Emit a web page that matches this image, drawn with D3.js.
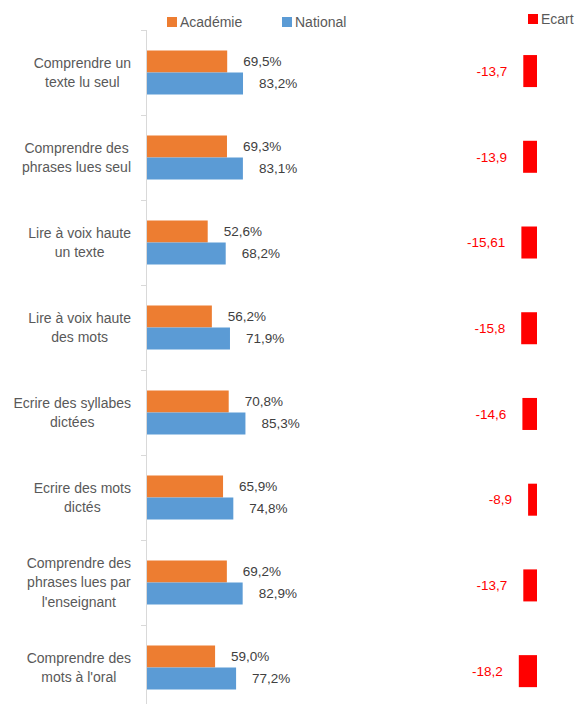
<!DOCTYPE html>
<html><head><meta charset="utf-8">
<script src="https://cdn.jsdelivr.net/npm/d3@7"></script>
<style>body{margin:0;background:#fff;} svg{display:block;font-family:"Liberation Sans",Arial,sans-serif;}</style>
</head><body><svg id="c" width="577" height="704"></svg>
<script>
const categories = [
  ["Comprendre un","texte lu seul"],
  ["Comprendre des","phrases lues seul"],
  ["Lire à voix haute","un texte"],
  ["Lire à voix haute","des mots"],
  ["Ecrire des syllabes","dictées"],
  ["Ecrire des mots","dictés"],
  ["Comprendre des","phrases lues par","l'enseignant"],
  ["Comprendre des","mots à l'oral"]
];
const academie = [69.5, 69.3, 52.6, 56.2, 70.8, 65.9, 69.2, 59.0];
const national = [83.2, 83.1, 68.2, 71.9, 85.3, 74.8, 82.9, 77.2];
const ecart = [-13.7, -13.9, -15.61, -15.8, -14.6, -8.9, -13.7, -18.2];
const seriesNames = ["Académie", "National", "Ecart"];
const colors = {"Académie":"#ED7D31","National":"#5B9BD5","Ecart":"#FF0000"};

const svg = d3.select("#c");
const idx = d3.range(categories.length);
const y = d3.scaleBand().domain(idx).range([30, 710]).paddingInner(41/85).paddingOuter(41/170);
const ySub = d3.scaleBand().domain([0,1]).range([0, y.bandwidth()]);
const x = d3.scaleLinear().domain([0, 100]).range([147, 147 + 115.4]);
const xe = d3.scaleLinear().domain([-20, 0]).range([517, 537]);
const yE = d3.scaleBand().domain(idx).range([28.2, 714]).paddingInner(53.7/85.7).paddingOuter(53.7/171.4);

// axis line and ticks
const yEdge = d3.scaleLinear().domain([0, categories.length]).range([30, 710]);
svg.append("line").attr("x1",146.5).attr("x2",146.5).attr("y1",30).attr("y2",704)
  .attr("stroke","#D9D9D9").attr("stroke-width",1);
svg.selectAll(".tk").data(d3.range(categories.length+1)).join("line")
  .attr("x1",141).attr("x2",146.5)
  .attr("y1",d=>Math.round(yEdge(d))+0.5).attr("y2",d=>Math.round(yEdge(d))+0.5)
  .attr("stroke","#D9D9D9");

const fmtPct = v => v.toFixed(1).replace(".", ",") + "%";
const fmtE = v => String(v).replace(".", ",");

// bars
const series = [academie, national];
series.forEach((vals, s) => {
  const g = svg.append("g");
  g.selectAll("rect").data(vals).join("rect")
    .attr("x", x(0)).attr("y", (d,i) => y(i) + ySub(s))
    .attr("width", d => x(d) - x(0)).attr("height", ySub.bandwidth())
    .attr("fill", colors[seriesNames[s]]);
  g.selectAll("text").data(vals).join("text")
    .attr("x", d => x(d) + 16).attr("y", (d,i) => y(i) + ySub(s) + ySub.bandwidth()/2)
    .attr("dy", "0.35em").attr("font-size", 13.5).attr("fill", "#404040")
    .text(fmtPct);
});

// ecart
svg.append("g").selectAll("rect").data(ecart).join("rect")
  .attr("x", d => xe(d)).attr("y", (d,i) => yE(i))
  .attr("width", d => xe(0) - xe(d)).attr("height", yE.bandwidth())
  .attr("fill", colors.Ecart);
svg.append("g").selectAll("text").data(ecart).join("text")
  .attr("x", d => xe(d) - 16).attr("y", (d,i) => yE(i) + yE.bandwidth()/2)
  .attr("dy", "0.35em").attr("text-anchor", "end").attr("font-size", 13.5).attr("fill", "#FF0000")
  .text(fmtE);

// category labels
categories.forEach((lines, i) => {
  const g = svg.append("g");
  const cy = y(i) + y.bandwidth()/2;
  const lh = 19.5;
  const t = g.selectAll("text").data(lines).join("text")
    .attr("font-size", 14).attr("fill", "#595959").attr("text-anchor", "middle")
    .attr("y", (d,k) => cy + (k - (lines.length-1)/2) * lh).attr("dy", "0.35em")
    .text(d => d);
  let maxW = 0; t.each(function(){ maxW = Math.max(maxW, this.getComputedTextLength()); });
  t.attr("x", 131 - maxW/2);
});

// legend
const legend = [
  {name:"Académie", x:167, y:22},
  {name:"National", x:282, y:22},
  {name:"Ecart", x:528, y:19}
];
legend.forEach(l => {
  svg.append("rect").attr("x", l.x).attr("y", l.y - 5).attr("width", 10).attr("height", 10).attr("fill", colors[l.name]);
  svg.append("text").attr("x", l.x + 13).attr("y", l.y).attr("dy", "0.35em")
    .attr("font-size", 14).attr("fill", "#595959").text(l.name);
});
</script></body></html>
